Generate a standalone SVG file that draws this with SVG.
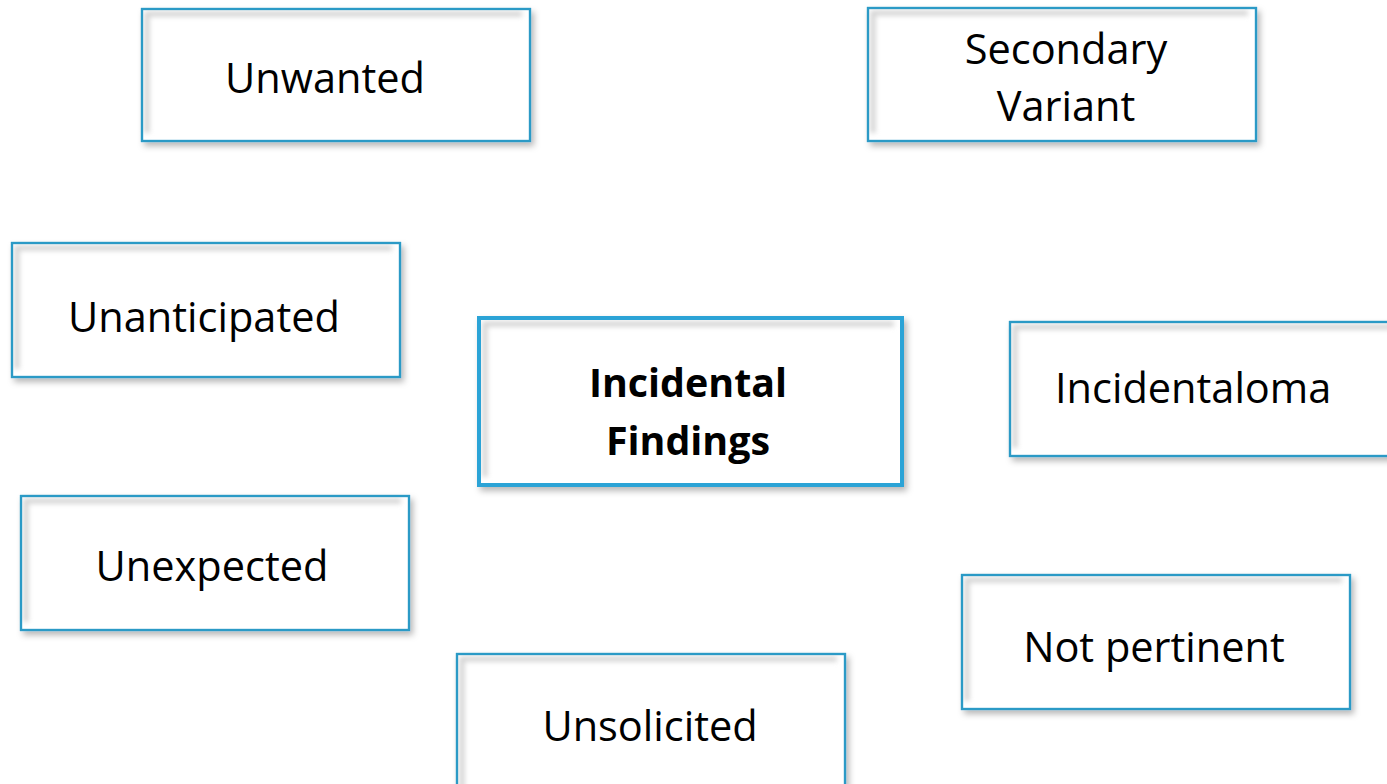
<svg xmlns="http://www.w3.org/2000/svg" width="1387" height="784" viewBox="0 0 1387 784">
<defs>
<filter id="drop" x="-10%" y="-10%" width="125%" height="130%">
<feDropShadow dx="3" dy="4" stdDeviation="3" flood-color="#000" flood-opacity="0.28"/>
</filter>
<filter id="soft" x="-5%" y="-5%" width="110%" height="110%">
<feGaussianBlur stdDeviation="2.5"/>
</filter>
</defs>
<style>
.box{fill:#fff;stroke:#2b9ac6;stroke-width:2.2;filter:url(#drop)}
.main{fill:#fff;stroke:#2ba3d6;stroke-width:4;filter:url(#drop)}
.edge{fill:none;stroke:#2b9ac6;stroke-width:2.2}
.inner{fill:none;stroke:#d2d2d2;stroke-width:5;filter:url(#soft)}
.t{font-family:"Open Sans","Noto Sans","Liberation Sans",sans-serif;font-size:41.5px;fill:#000;text-anchor:middle}
.b{font-weight:bold;font-size:39.4px}
</style>
<rect width="1387" height="784" fill="#fff"/>
<g id="connectors"/>
<g id="n-unwanted">
<rect class="box" x="142" y="9" width="388" height="132"/>
<path class="inner" d="M147,133 V14 H522"/>
<rect class="edge" x="142" y="9" width="388" height="132"/>
<text class="t" x="325" y="93">Unwanted</text>
</g>
<g id="n-secondary">
<rect class="box" x="868" y="8" width="388" height="133"/>
<path class="inner" d="M873,133 V13 H1248"/>
<rect class="edge" x="868" y="8" width="388" height="133"/>
<text class="t" x="1066" y="64">Secondary</text>
<text class="t" x="1066" y="121">Variant</text>
</g>
<g id="n-unanticipated">
<rect class="box" x="12" y="243" width="388" height="134"/>
<path class="inner" d="M17,369 V248 H392"/>
<rect class="edge" x="12" y="243" width="388" height="134"/>
<text class="t" x="204" y="332">Unanticipated</text>
</g>
<g id="n-incidental">
<rect class="main" x="479" y="318" width="423" height="167"/>
<path class="inner" d="M485,477 V324 H894"/>
<rect x="479" y="318" width="423" height="167" fill="none" stroke="#2ba3d6" stroke-width="4"/>
<text class="t b" x="688" y="397">Incidental</text>
<text class="t b" x="688" y="455">Findings</text>
</g>
<g id="n-incidentaloma">
<rect class="box" x="1010" y="322" width="390" height="134"/>
<path class="inner" d="M1015,448 V327 H1392"/>
<rect class="edge" x="1010" y="322" width="390" height="134"/>
<text class="t" x="1055" y="403" style="text-anchor:start">Incidentaloma</text>
</g>
<g id="n-unexpected">
<rect class="box" x="21" y="496" width="388" height="134"/>
<path class="inner" d="M26,622 V501 H401"/>
<rect class="edge" x="21" y="496" width="388" height="134"/>
<text class="t" x="212" y="581">Unexpected</text>
</g>
<g id="n-notpertinent">
<rect class="box" x="962" y="575" width="388" height="134"/>
<path class="inner" d="M967,701 V580 H1342"/>
<rect class="edge" x="962" y="575" width="388" height="134"/>
<text class="t" x="1154" y="662">Not pertinent</text>
</g>
<g id="n-unsolicited">
<rect class="box" x="457" y="654" width="388" height="150"/>
<path class="inner" d="M462,800 V659 H837"/>
<rect class="edge" x="457" y="654" width="388" height="150"/>
<text class="t" x="650" y="741">Unsolicited</text>
</g>
</svg>
